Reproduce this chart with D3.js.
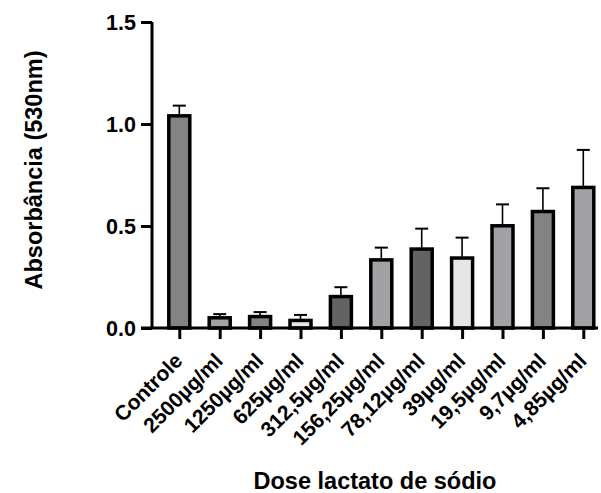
<!DOCTYPE html>
<html><head><meta charset="utf-8">
<script src="https://cdn.jsdelivr.net/npm/d3@7"></script>
<style>body{margin:0;background:#fff;}svg{display:block;font-family:"Liberation Sans",Arial,sans-serif;}</style>
</head><body>
<svg id="c" width="601" height="493"></svg>
<script>
const categories = ["Controle","2500µg/ml","1250µg/ml","625µg/ml","312,5µg/ml","156,25µg/ml","78,12µg/ml","39µg/ml","19,5µg/ml","9,7µg/ml","4,85µg/ml"];
const means = [1.04, 0.05, 0.056, 0.037, 0.154, 0.334, 0.387, 0.343, 0.501, 0.571, 0.689];
const errUpper = [1.09, 0.068, 0.078, 0.064, 0.2, 0.394, 0.487, 0.443, 0.606, 0.685, 0.873];
const fills = ["#838383","#a2a2a6","#838383","#e6e6e6","#636363","#a2a2a6","#636363","#e6e6e6","#a2a2a6","#838383","#a2a2a6"];
const yTicks = [0, 0.5, 1.0, 1.5];

const svg = d3.select("#c");
const FF = "Liberation Sans, Arial, sans-serif";
const x0 = 152, x1 = 598, yTop = 22, yBot = 328;
const x = d3.scalePoint().domain(categories).range([179.3, 583.3]);
const y = d3.scaleLinear().domain([0, 1.5]).range([yBot, yTop]);
const bw = 21;

const g = svg.append("g");
// error bars
categories.forEach((c, i) => {
  g.append("line").attr("x1", x(c)).attr("x2", x(c)).attr("y1", y(means[i])).attr("y2", y(errUpper[i]))
    .attr("stroke", "#000").attr("stroke-width", 1.6);
  g.append("line").attr("x1", x(c) - 6.5).attr("x2", x(c) + 6.5).attr("y1", y(errUpper[i])).attr("y2", y(errUpper[i]))
    .attr("stroke", "#000").attr("stroke-width", 2);
});
// bars
g.selectAll("rect.bar").data(categories).enter().append("rect")
  .attr("x", c => x(c) - bw / 2)
  .attr("y", (c, i) => y(means[i]))
  .attr("width", bw)
  .attr("height", (c, i) => yBot - y(means[i]))
  .attr("fill", (c, i) => fills[i])
  .attr("stroke", "#000").attr("stroke-width", 3.5);

// y axis
const yAxis = d3.axisLeft(y).tickValues(yTicks).tickFormat(d3.format(".1f")).tickSize(11).tickPadding(5);
const ya = svg.append("g").attr("transform", `translate(${x0},0)`).call(yAxis);
ya.select(".domain").attr("stroke-width", 3).attr("d", `M0,${yTop}V${yBot}`);
ya.selectAll(".tick line").attr("stroke-width", 3);
ya.selectAll(".tick text").attr("font-size", 21.5).attr("font-weight", "bold").attr("fill", "#000")
  .attr("font-family", FF).attr("dy", "0.34em");

// x axis
const xAxis = d3.axisBottom(x).tickSize(11).tickPadding(4);
const xa = svg.append("g").attr("transform", `translate(0,${yBot})`).call(xAxis);
xa.select(".domain").attr("stroke-width", 3).attr("d", `M${x0 - 11},0H${x1}`);
xa.selectAll(".tick line").attr("stroke-width", 3);
xa.selectAll(".tick text").attr("font-size", 21).attr("font-weight", "bold").attr("fill", "#000")
  .attr("font-family", FF)
  .attr("text-anchor", "end").attr("dy", "0").attr("y", 0)
  .attr("transform", "translate(4,34) rotate(-45)");

// titles
svg.append("text").attr("transform", "translate(42,170) rotate(-90)").attr("text-anchor", "middle")
  .attr("font-size", 23.5).attr("font-weight", "bold").attr("font-family", FF).text("Absorbância (530nm)");
svg.append("text").attr("x", 375).attr("y", 489).attr("text-anchor", "middle")
  .attr("font-size", 23.5).attr("font-weight", "bold").attr("font-family", FF).text("Dose lactato de sódio");
</script>
</body></html>
